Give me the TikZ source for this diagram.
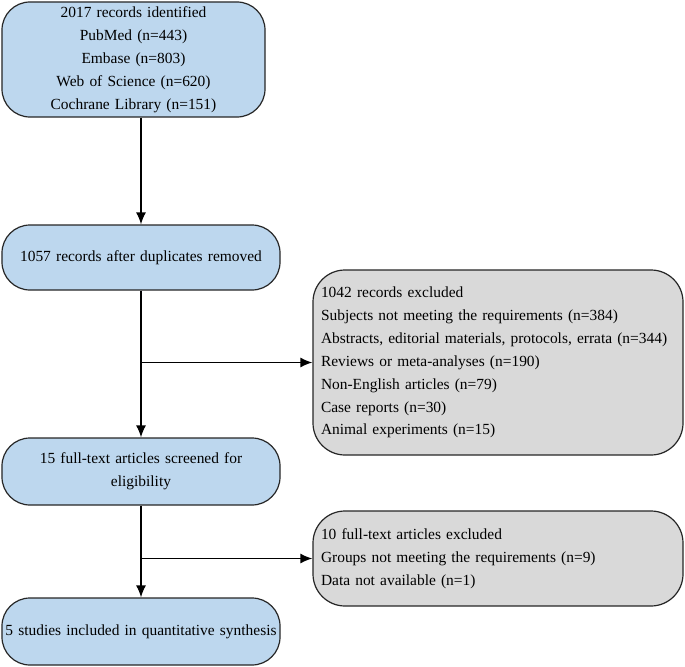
\documentclass[tikz,border=0pt]{standalone}
\usepackage{fontspec}
\setmainfont{Liberation Serif}
\usetikzlibrary{arrows.meta}
\definecolor{boxblue}{HTML}{BDD7EE}
\definecolor{boxgrey}{HTML}{D9D9D9}
\tikzset{
	stagebox/.style={draw=black!85, line width=1.2bp, fill=boxblue, rounded corners=28bp,
		minimum width=278bp, text width=274bp, align=center, inner sep=0pt,
		font=\rmfamily\fontsize{15.5}{23}\selectfont},
	exclbox/.style={draw=black!85, line width=1.2bp, fill=boxgrey, rounded corners=32bp,
		minimum width=370bp, text width=354bp, align=left, inner sep=0pt,
		font=\rmfamily\fontsize{15.5}{23}\selectfont},
	flow/.style={line width=1.5bp, -{Latex[length=12bp,width=10bp]}}
}
\begin{document}
\begin{tikzpicture}[x=1bp,y=-1bp]
		\useasboundingbox (0,0) rectangle (685,667);
		\node[stagebox, minimum width=263bp, text width=255bp, minimum height=115bp] (ident) at (133.5,59.5)
			{2017 records identified\\PubMed (n=443)\\Embase (n=803)\\Web of Science (n=620)\\Cochrane Library (n=151)};
		\node[stagebox, minimum height=65bp] (dedup) at (141,257.5) {1057 records after duplicates removed};
		\node[stagebox, minimum height=67bp] (screen) at (141,471.5) {15 full-text articles screened for\\eligibility};
		\node[stagebox, minimum height=67bp] (incl) at (141,631.5) {5 studies included in quantitative synthesis};
		\node[exclbox, minimum height=185bp] (excl1) at (498,362.5)
			{1042 records excluded\\Subjects not meeting the requirements (n=384)\\Abstracts, editorial materials, protocols, errata (n=344)\\Reviews or meta-analyses (n=190)\\Non-English articles (n=79)\\Case reports (n=30)\\Animal experiments (n=15)};
		\node[exclbox, minimum height=95bp] (excl2) at (498,558.5)
			{10 full-text articles excluded\\Groups not meeting the requirements (n=9)\\Data not available (n=1)};
		% main flow
		\draw[flow] (ident.south -| dedup.north) -- (dedup.north);
		\draw[flow] (dedup.south) -- (screen.north);
		\draw[flow] (screen.south) -- (incl.north);
		% exclusions
		\draw[flow] (dedup.south |- excl1.west) -- (excl1.west);
		\draw[flow] (screen.south |- excl2.west) -- (excl2.west);
	\end{tikzpicture}
\end{document}
